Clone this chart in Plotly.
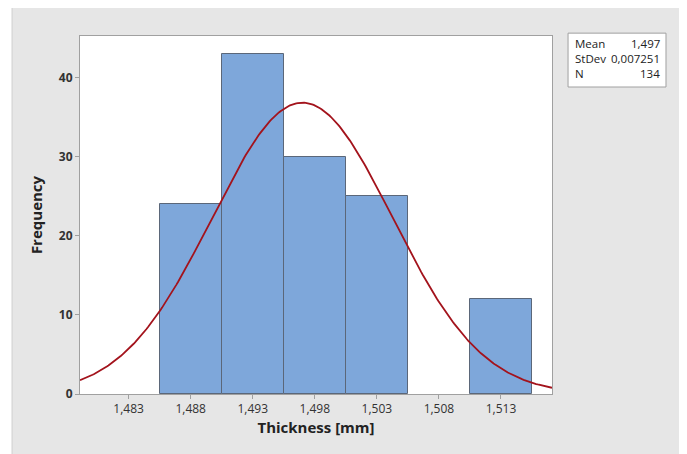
"""Histogram grubości z dopasowaną krzywą rozkładu normalnego (styl Minitab)."""

import numpy as np
import plotly.graph_objects as go

# Dane
bin_centers = [1.488, 1.493, 1.498, 1.503, 1.513]
frequencies = [24, 43, 30, 25, 12]
bin_width = 0.005
tick_vals = [1.483, 1.488, 1.493, 1.498, 1.503, 1.508, 1.513]
y_ticks = [0, 10, 20, 30, 40]

# Parametry dopasowania
MEAN = 1.497
STDEV = 0.007251
N = 134

X_RANGE = [1.47908, 1.51711]
Y_RANGE = [0, 45.3]

FONT = "Open Sans"
BAR_COLOR = "#7ea7da"
BAR_EDGE = "#5b6779"
CURVE_COLOR = "#a3131c"
GRAY_BG = "#e6e6e6"
AXIS_COLOR = "#a0a0a0"

# Krzywa normalna przeskalowana do liczebności
xs = np.linspace(X_RANGE[0], X_RANGE[1], 300)
ys = N * bin_width / (STDEV * np.sqrt(2 * np.pi)) * np.exp(-0.5 * ((xs - MEAN) / STDEV) ** 2)

fig = go.Figure()

fig.add_trace(
    go.Bar(
        x=bin_centers,
        y=frequencies,
        width=bin_width,
        marker=dict(color=BAR_COLOR, line=dict(color=BAR_EDGE, width=1)),
        showlegend=False,
        hovertemplate="%{x:.3f}: %{y}<extra></extra>",
    )
)

fig.add_trace(
    go.Scatter(
        x=xs,
        y=ys,
        mode="lines",
        line=dict(color=CURVE_COLOR, width=1.8),
        showlegend=False,
        hoverinfo="skip",
    )
)

# Tło: szary obszar z cienkimi białymi brzegami
shapes = [
    dict(type="rect", xref="paper", yref="paper", x0=-0.144, x1=1.278, y0=-0.2, y1=1.092,
         fillcolor=GRAY_BG, line=dict(color="#d0d0d0", width=1), layer="below"),
    dict(type="rect", xref="paper", yref="paper", x0=0, x1=1, y0=0, y1=1,
         fillcolor="white", line=dict(width=0), layer="below"),
    # ramka statystyk
    dict(type="rect", xref="paper", yref="paper", x0=1.034, x1=1.2415, y0=0.8575, y1=1.008,
         fillcolor="white", line=dict(color="#a0a0a0", width=1)),
]

stats_labels = ["Mean", "StDev", "N"]
stats_values = ["1,497", "0,007251", "134"]
row_y = [0.978, 0.936, 0.894]

annotations = []
for lab, val, yy in zip(stats_labels, stats_values, row_y):
    annotations.append(dict(xref="paper", yref="paper", x=1.045, y=yy, text=lab, showarrow=False,
                            xanchor="left", yanchor="middle",
                            font=dict(family=FONT, size=11.5, color="#222")))
    annotations.append(dict(xref="paper", yref="paper", x=1.233, y=yy, text=val, showarrow=False,
                            xanchor="right", yanchor="middle",
                            font=dict(family=FONT, size=11.5, color="#222")))

# Strona ma 8 px marginesu body, więc figura jest o tyle mniejsza
fig.update_layout(
    width=679,
    height=446,
    margin=dict(l=72, r=135, t=28, b=60),
    paper_bgcolor="white",
    plot_bgcolor="white",
    separators=", ",
    bargap=0,
    shapes=shapes,
    annotations=annotations,
    xaxis=dict(
        range=X_RANGE,
        tickvals=tick_vals,
        tickformat=".3f",
        ticks="outside",
        ticklen=4,
        tickcolor=AXIS_COLOR,
        showline=True,
        linecolor=AXIS_COLOR,
        mirror=True,
        showgrid=False,
        zeroline=False,
        tickfont=dict(family=FONT, size=12, color="#333"),
        title=dict(text="<b>Thickness [mm]</b>", font=dict(family=FONT, size=15, color="#222"), standoff=6),
    ),
    yaxis=dict(
        range=Y_RANGE,
        tickvals=y_ticks,
        ticktext=[f"<b>{v}</b>" for v in y_ticks],
        ticks="outside",
        ticklen=4,
        tickcolor=AXIS_COLOR,
        showline=True,
        linecolor=AXIS_COLOR,
        mirror=True,
        showgrid=False,
        zeroline=False,
        tickfont=dict(family=FONT, size=12, color="#333"),
        title=dict(text="<b>Frequency</b>", font=dict(family=FONT, size=15, color="#222"), standoff=12),
    ),
)

fig.write_html("out.html")
